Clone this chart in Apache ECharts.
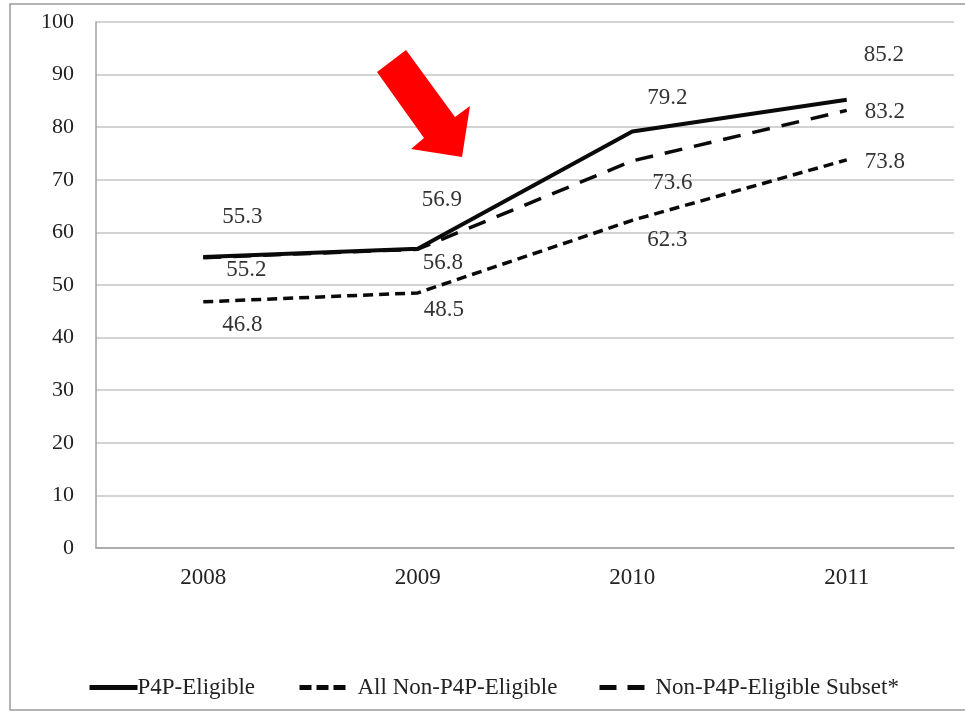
<!DOCTYPE html>
<html>
<head>
<meta charset="utf-8">
<script src="https://cdn.jsdelivr.net/npm/echarts@6/dist/echarts.min.js"></script>
<style>
  html, body { margin: 0; padding: 0; background: #fff; }
  #chart { width: 965px; height: 713px; }
</style>
</head>
<body>
<div id="chart"></div>
<script>
// Years on the horizontal axis
const years = ['2008', '2009', '2010', '2011'];

// Percentages per group
const p4pEligible = [55.3, 56.9, 79.2, 85.2];
const allNonP4P = [46.8, 48.5, 62.3, 73.8];
const nonP4PSubset = [55.2, 56.8, 73.6, 83.2];

// Series names shown in the legend
const seriesNames = ['P4P-Eligible', 'All Non-P4P-Eligible', 'Non-P4P-Eligible Subset*'];

// Value label offsets (px) from each point, per series
const offsP4P = [[39, -40], [24, -49], [35, -33], [37, -45]];
const offsAll = [[39, 23], [26, 17], [35, 20], [38, 2]];
const offsSubset = [[43, 12], [25, 14], [40, 22], [38, 2]];

const FONT = 'Liberation Serif';
const SHORT_DASH = [10, 6];
const LONG_DASH = [18, 12];

function withLabels(values, offsets) {
  return values.map((v, i) => ({
    value: v,
    label: { offset: offsets[i] }
  }));
}

function lineSeries(name, values, offsets, width, type) {
  return {
    name: name,
    type: 'line',
    data: withLabels(values, offsets),
    symbol: 'circle',
    symbolSize: 1,
    itemStyle: { color: 'rgba(0,0,0,0)' },
    lineStyle: { color: '#0a0a0a', width: width, type: type },
    label: {
      show: true,
      position: 'inside',
      align: 'center',
      verticalAlign: 'middle',
      color: '#333',
      fontFamily: FONT,
      fontSize: 23,
      formatter: p => p.value.toFixed(1)
    },
    emphasis: { disabled: true },
    animation: false,
    z: 3
  };
}

// One legend entry per component so each can sit at its own spot
function legendEntry(name, left, dash, textPad) {
  return {
    data: [name],
    left: left,
    top: 671,
    itemWidth: 48,
    itemHeight: 5,
    selectedMode: false,
    lineStyle: { width: 5, type: dash, color: '#0a0a0a' },
    itemStyle: { color: 'rgba(0,0,0,0)' },
    textStyle: { color: '#222', fontFamily: FONT, fontSize: 23, padding: textPad }
  };
}

const chart = echarts.init(document.getElementById('chart'), null, { renderer: 'canvas' });

chart.setOption({
  backgroundColor: '#fff',
  animation: false,
  grid: { left: 96, right: 11, top: 22, bottom: 165, containLabel: false },
  xAxis: {
    type: 'category',
    data: years,
    boundaryGap: true,
    axisLine: { lineStyle: { color: '#a0a0a0', width: 1.5 } },
    axisTick: { show: false },
    axisLabel: { color: '#222', fontFamily: FONT, fontSize: 23, margin: 18 }
  },
  yAxis: {
    type: 'value',
    min: 0,
    max: 100,
    interval: 10,
    axisLine: { show: true, lineStyle: { color: '#a0a0a0', width: 1.5 } },
    axisTick: { show: false },
    splitLine: { lineStyle: { color: '#c4c4c4', width: 1.5 } },
    axisLabel: { color: '#222', fontFamily: FONT, fontSize: 22, margin: 22 }
  },
  legend: [
    legendEntry(seriesNames[0], 82, 'solid', [0, 0, 0, -5]),
    legendEntry(seriesNames[1], 292, [12, 5], [0, 0, 0, 5]),
    legendEntry(seriesNames[2], 592, [17, 11], [0, 0, 0, 3])
  ],
  series: [
    lineSeries(seriesNames[0], p4pEligible, offsP4P, 4, 'solid'),
    lineSeries(seriesNames[1], allNonP4P, offsAll, 3.5, SHORT_DASH),
    lineSeries(seriesNames[2], nonP4PSubset, offsSubset, 3.5, LONG_DASH)
  ],
  graphic: [
    {
      type: 'rect',
      shape: { x: 10, y: 4, width: 980, height: 706 },
      style: { fill: 'none', stroke: '#9a9a9a', lineWidth: 1.5 },
      silent: true,
      z: 0
    },
    {
      type: 'polygon',
      shape: {
        points: [[406, 50], [455, 117], [470, 106], [462, 157], [411, 149], [424, 138], [377, 72]]
      },
      style: { fill: '#ff0000' },
      silent: true,
      z: 10
    }
  ]
});
</script>
</body>
</html>
